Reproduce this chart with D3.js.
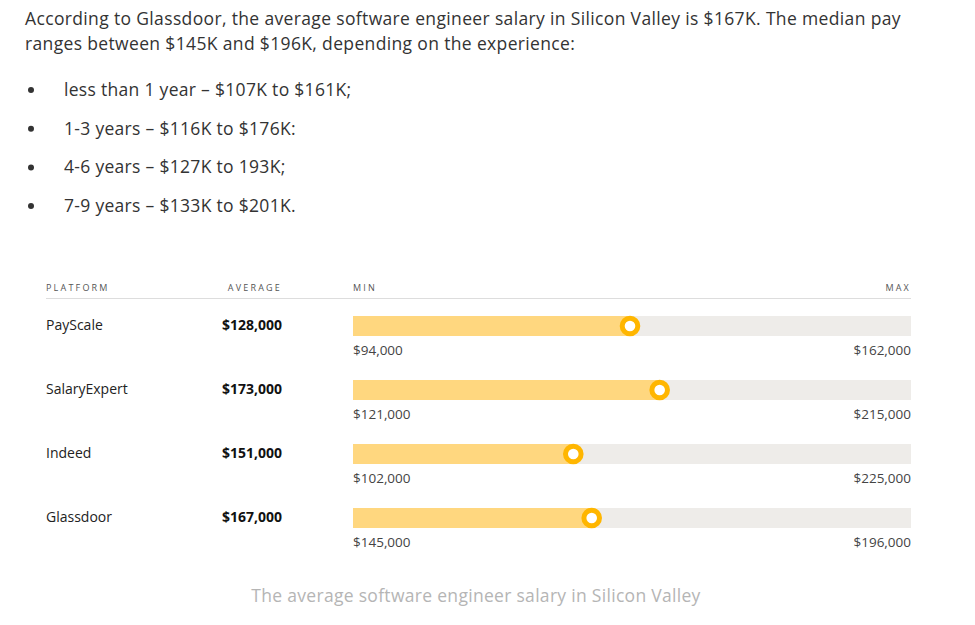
<!DOCTYPE html>
<html><head><meta charset="utf-8">
<script src="https://cdn.jsdelivr.net/npm/d3@7"></script>
<style>body{margin:0;background:#fff}svg{display:block;font-family:"Open Sans","Noto Sans",sans-serif}</style>
</head><body>
<script>
var introLines = ["According to Glassdoor, the average software engineer salary in Silicon Valley is $167K. The median pay",
                  "ranges between $145K and $196K, depending on the experience:"];
var bullets = ["less than 1 year – $107K to $161K;", "1-3 years – $116K to $176K:", "4-6 years – $127K to 193K;", "7-9 years – $133K to $201K."];
var platforms = ["PayScale", "SalaryExpert", "Indeed", "Glassdoor"];
var averages = [128000, 173000, 151000, 167000];
var mins = [94000, 121000, 102000, 145000];
var maxs = [162000, 215000, 225000, 196000];
var caption = "The average software engineer salary in Silicon Valley";

var w = 975, h = 625;
var svg = d3.select("body").append("svg").attr("width", w).attr("height", h);
var fmt = function(v){ return "$" + d3.format(",")(v); };

svg.selectAll("text.intro").data(introLines).enter().append("text")
  .attr("x", 25).attr("y", function(d, i){ return 25 + i * 25; })
  .attr("font-size", 17.5).attr("letter-spacing", "0.35px").attr("fill", "#333").text(function(d){ return d; });
var bl = svg.selectAll("g.b").data(bullets).enter().append("g")
  .attr("transform", function(d, i){ return "translate(0," + (96 + i * 38.7) + ")"; });
bl.append("circle").attr("cx", 31).attr("cy", -6).attr("r", 3).attr("fill", "#333");
bl.append("text").attr("x", 64).attr("font-size", 17.5).attr("letter-spacing", "0.3px").attr("fill", "#333").text(function(d){ return d; });

// header
var hd = [["PLATFORM", 46, "start"], ["AVERAGE", 282, "end"], ["MIN", 353, "start"], ["MAX", 911, "end"]];
svg.selectAll("text.hd").data(hd).enter().append("text")
  .attr("x", function(d){ return d[1]; }).attr("y", 291).attr("text-anchor", function(d){ return d[2]; })
  .attr("font-size", 9).attr("letter-spacing", "2.2px").attr("fill", "#555").text(function(d){ return d[0]; });
svg.append("line").attr("x1", 46).attr("x2", 911).attr("y1", 298.5).attr("y2", 298.5).attr("stroke", "#ddd");

var y = d3.scaleBand().domain(platforms).range([316, 572]).paddingInner(0);
var x0 = 353, x1 = 911;
platforms.forEach(function(p, i){
  var g = svg.append("g").attr("transform", "translate(0," + y(p) + ")");
  var x = d3.scaleLinear().domain([mins[i], maxs[i]]).range([x0, x1]);
  g.append("rect").attr("x", x0).attr("width", x1 - x0).attr("height", 20).attr("fill", "#EEECE9");
  g.append("rect").attr("x", x0).attr("width", x(averages[i]) - x0).attr("height", 20).attr("fill", "#FFD77F");
  g.append("circle").attr("cx", x(averages[i]) - 2).attr("cy", 10).attr("r", 7.8).attr("fill", "#fff").attr("stroke", "#FFB600").attr("stroke-width", 5);
  g.append("text").attr("x", 46).attr("y", 14).attr("font-size", 14).attr("fill", "#222").text(p);
  g.append("text").attr("x", 282).attr("y", 14).attr("text-anchor", "end").attr("font-size", 14).attr("font-weight", "bold").attr("fill", "#111").text(fmt(averages[i]));
  g.append("text").attr("x", x0).attr("y", 39).attr("font-size", 13.5).attr("fill", "#444").text(fmt(mins[i]));
  g.append("text").attr("x", x1).attr("y", 39).attr("text-anchor", "end").attr("font-size", 13.5).attr("fill", "#444").text(fmt(maxs[i]));
});

svg.append("text").attr("x", 476).attr("y", 602).attr("text-anchor", "middle").attr("font-size", 17.5).attr("letter-spacing", "0.3px").attr("fill", "#b5b5b5").text(caption);
</script>
</body></html>
